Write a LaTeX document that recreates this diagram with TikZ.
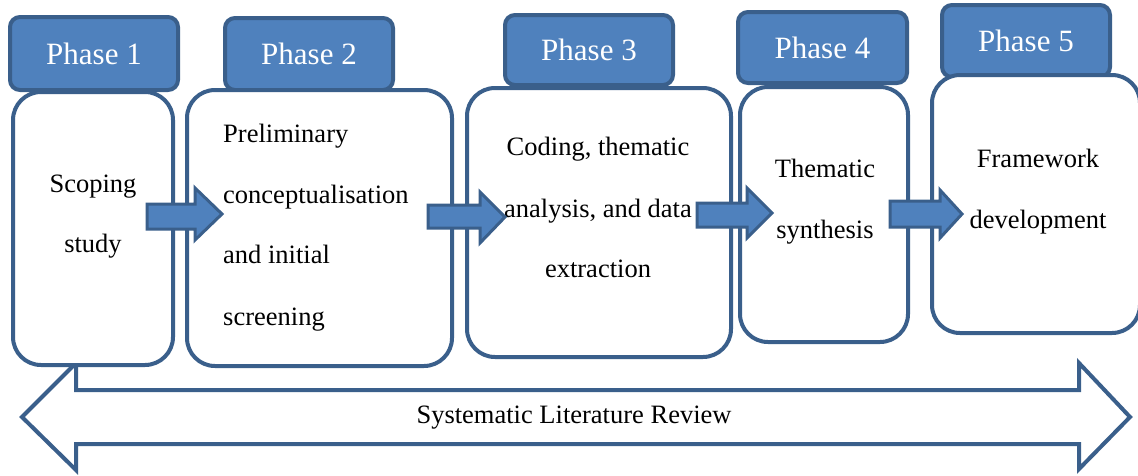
\documentclass[tikz,border=0pt]{standalone}
\usepackage{fontspec}
\setmainfont{Liberation Serif}
\newfontfamily\timesfont{Liberation Serif}
\definecolor{hfill}{HTML}{4F81BD}
\definecolor{hline}{HTML}{3A5F8B}
\begin{document}
\begin{tikzpicture}[x=1pt,y=-1pt,
  phasehead/.style={draw=hline, fill=hfill, line width=4pt, rounded corners=10pt, text=white,
    font=\timesfont\fontsize{31}{31}\selectfont, inner sep=0pt},
  phasebody/.style={draw=hline, fill=white, line width=4pt, rounded corners=28pt, inner sep=0pt},
  txt/.style={font=\timesfont\fontsize{26.5}{30}\selectfont, inner sep=0pt, text=black},
  blk/.style={draw=hline, fill=hfill, line width=3pt, line join=miter},
  outline/.style={draw=hline, line width=4pt, line join=miter}]
\useasboundingbox (0,0) rectangle (1138,475);

% bottom double arrow
\draw[outline] (22,417) -- (76,363) -- (76,390) -- (1079,390) -- (1079,363) -- (1130,417)
  -- (1079,469) -- (1079,444) -- (76,444) -- (76,470) -- cycle;
\node[txt, anchor=base] (slr) at (574,423) {Systematic Literature Review};

% headers
\node[phasehead, minimum width=168, minimum height=73] (h1) at (94,53.5) {Phase 1};
\node[phasehead, minimum width=168, minimum height=72] (h2) at (309,54) {Phase 2};
\node[phasehead, minimum width=168, minimum height=70] (h3) at (589,50) {Phase 3};
\node[phasehead, minimum width=169, minimum height=71] (h4) at (822.5,47.5) {Phase 4};
\node[phasehead, minimum width=168, minimum height=72] (h5) at (1026,41) {Phase 5};

% bodies
\node[phasebody, minimum width=160, minimum height=273] (b1) at (93,228.5) {};
\node[phasebody, minimum width=265, minimum height=276] (b2) at (319.5,228) {};
\node[phasebody, minimum width=264, minimum height=269] (b3) at (599,222.5) {};
\node[phasebody, minimum width=168, minimum height=255] (b4) at (824,214.5) {};
\node[phasebody, minimum width=208, minimum height=258] (b5) at (1036,204) {};

% body texts
\node[txt, anchor=base] (t11) at (93,192) {Scoping};
\node[txt, anchor=base] (t12) at (93,252) {study};
\node[txt, anchor=base west] (t21) at (223,142) {Preliminary};
\node[txt, anchor=base west] (t22) at (223,203) {conceptualisation};
\node[txt, anchor=base west] (t23) at (223,263) {and initial};
\node[txt, anchor=base west] (t24) at (223,325) {screening};
\node[txt, anchor=base] (t31) at (598,155) {Coding, thematic};
\node[txt, anchor=base] (t32) at (598,217) {analysis, and data};
\node[txt, anchor=base] (t33) at (598,277) {extraction};
\node[txt, anchor=base] (t41) at (825,177) {Thematic};
\node[txt, anchor=base] (t42) at (825,238) {synthesis};
\node[txt, anchor=base] (t51) at (1038,167) {Framework};
\node[txt, anchor=base] (t52) at (1038,228) {development};

% block arrows
\draw[blk] (147,204) -- (195,204) -- (195,188) -- (222,214) -- (195,240) -- (195,229) -- (147,229) -- cycle;
\draw[blk] (428,205) -- (480,205) -- (480,192) -- (505,217) -- (480,243) -- (480,228) -- (428,228) -- cycle;
\draw[blk] (697,203) -- (747,203) -- (747,188) -- (772,213) -- (747,238) -- (747,227) -- (697,227) -- cycle;
\draw[blk] (890,201) -- (940,201) -- (940,190) -- (962,214) -- (940,238) -- (940,227) -- (890,227) -- cycle;
\end{tikzpicture}
\end{document}
